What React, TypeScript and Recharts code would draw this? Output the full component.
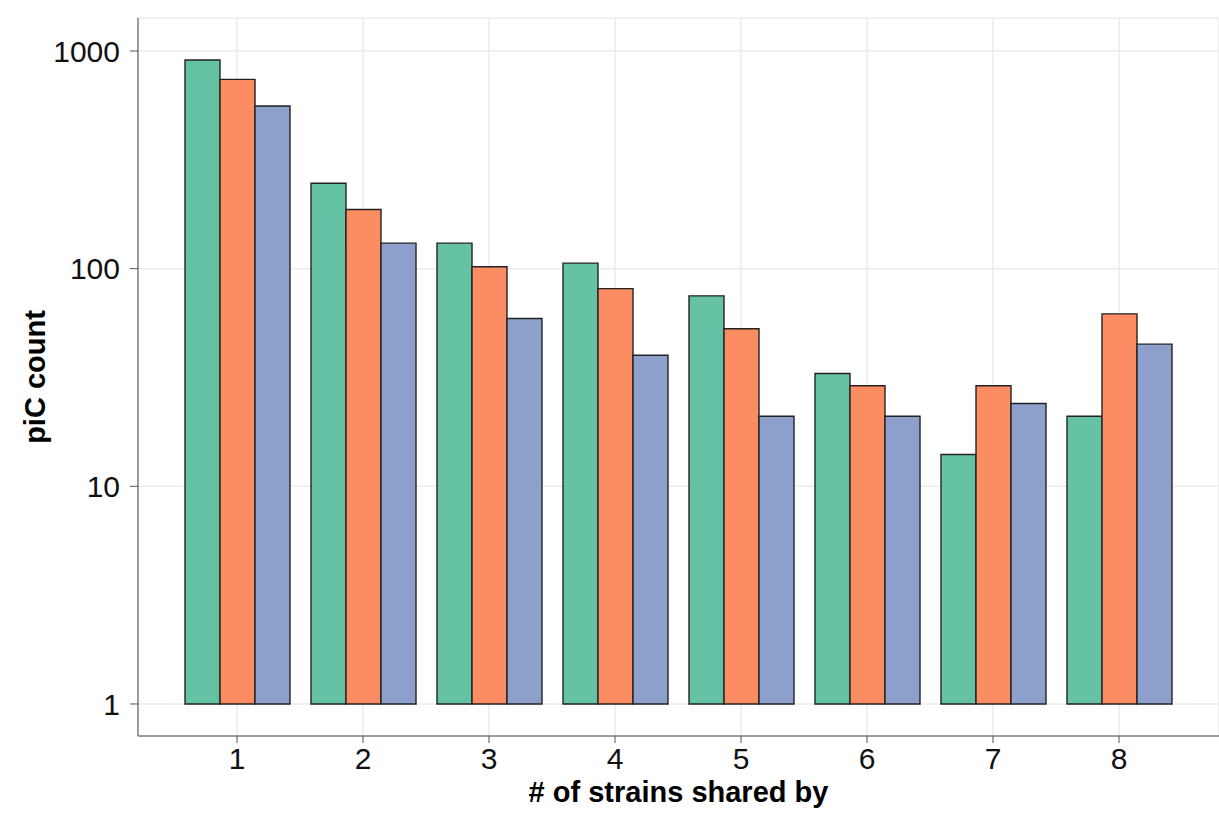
import React from 'react';
import { BarChart, Bar, XAxis, YAxis, CartesianGrid } from 'recharts';

// counts per number of sharing strains, one array per series
const strainCounts = ['1', '2', '3', '4', '5', '6', '7', '8'];
const greenCounts = [909, 247, 131, 106, 75, 33, 14, 21];
const orangeCounts = [741, 187, 102, 81, 53, 29, 29, 62];
const blueCounts = [559, 131, 59, 40, 21, 21, 24, 45];
const yTicks = [1, 10, 100, 1000];

const data = strainCounts.map((k, i) => ({
  k,
  green: greenCounts[i],
  orange: orangeCounts[i],
  blue: blueCounts[i],
}));

const FONT = '"Liberation Sans", Arial, Helvetica, sans-serif';
const BORDER = '#7f7f7f';

// bars on a log axis start at 1, so draw them as [1, value] ranges
const fromOne = (key: 'green' | 'orange' | 'blue') => (d: any) => [1, d[key]];

export default function App() {
  return (
    <div style={{ position: 'absolute', left: 0, top: 0, background: '#fff' }}>
      <BarChart
        width={1219}
        height={814}
        data={data}
        margin={{ top: 18, right: 0, bottom: 0, left: 0 }}
        barCategoryGap={11}
        barGap={0}
      >
        <CartesianGrid stroke="#ebebeb" strokeWidth={1.5} />
        <XAxis
          dataKey="k"
          height={78}
          padding={{ left: 36, right: 37 }}
          axisLine={{ stroke: BORDER, strokeWidth: 1.5 }}
          tickLine={{ stroke: '#555' }}
          tickSize={7}
          tickMargin={5}
          tick={{ fontSize: 30, fill: '#111', fontFamily: FONT }}
          label={{
            content: ({ viewBox }: any) => (
              <text
                x={viewBox.x + viewBox.width / 2}
                y={802}
                textAnchor="middle"
                fontSize={29}
                fontWeight="bold"
                fontFamily={FONT}
                fill="#000"
              >
                # of strains shared by
              </text>
            ),
          }}
        />
        <XAxis
          xAxisId="top"
          orientation="top"
          dataKey="k"
          height={0}
          tick={false}
          tickLine={false}
          axisLine={{ stroke: BORDER, strokeWidth: 1.5 }}
        />
        <YAxis
          type="number"
          scale="log"
          domain={[0.7126, 1418]}
          allowDataOverflow
          ticks={yTicks}
          interval={0}
          width={138}
          axisLine={{ stroke: BORDER, strokeWidth: 1.5 }}
          tickLine={{ stroke: '#555' }}
          tickSize={8}
          tickMargin={10}
          tick={{ fontSize: 30, fill: '#111', fontFamily: FONT }}
          label={{
            content: ({ viewBox }: any) => {
              const cy = viewBox.y + viewBox.height / 2;
              return (
                <text
                  x={45}
                  y={cy}
                  transform={`rotate(-90, 45, ${cy})`}
                  textAnchor="middle"
                  fontSize={29}
                  fontWeight="bold"
                  fontFamily={FONT}
                  fill="#000"
                >
                  piC count
                </text>
              );
            },
          }}
        />
        <Bar dataKey={fromOne('green')} fill="#66C2A5" stroke="#222" strokeWidth={1.4} isAnimationActive={false} />
        <Bar dataKey={fromOne('orange')} fill="#FC8D62" stroke="#222" strokeWidth={1.4} isAnimationActive={false} />
        <Bar dataKey={fromOne('blue')} fill="#8DA0CB" stroke="#222" strokeWidth={1.4} isAnimationActive={false} />
      </BarChart>
    </div>
  );
}
